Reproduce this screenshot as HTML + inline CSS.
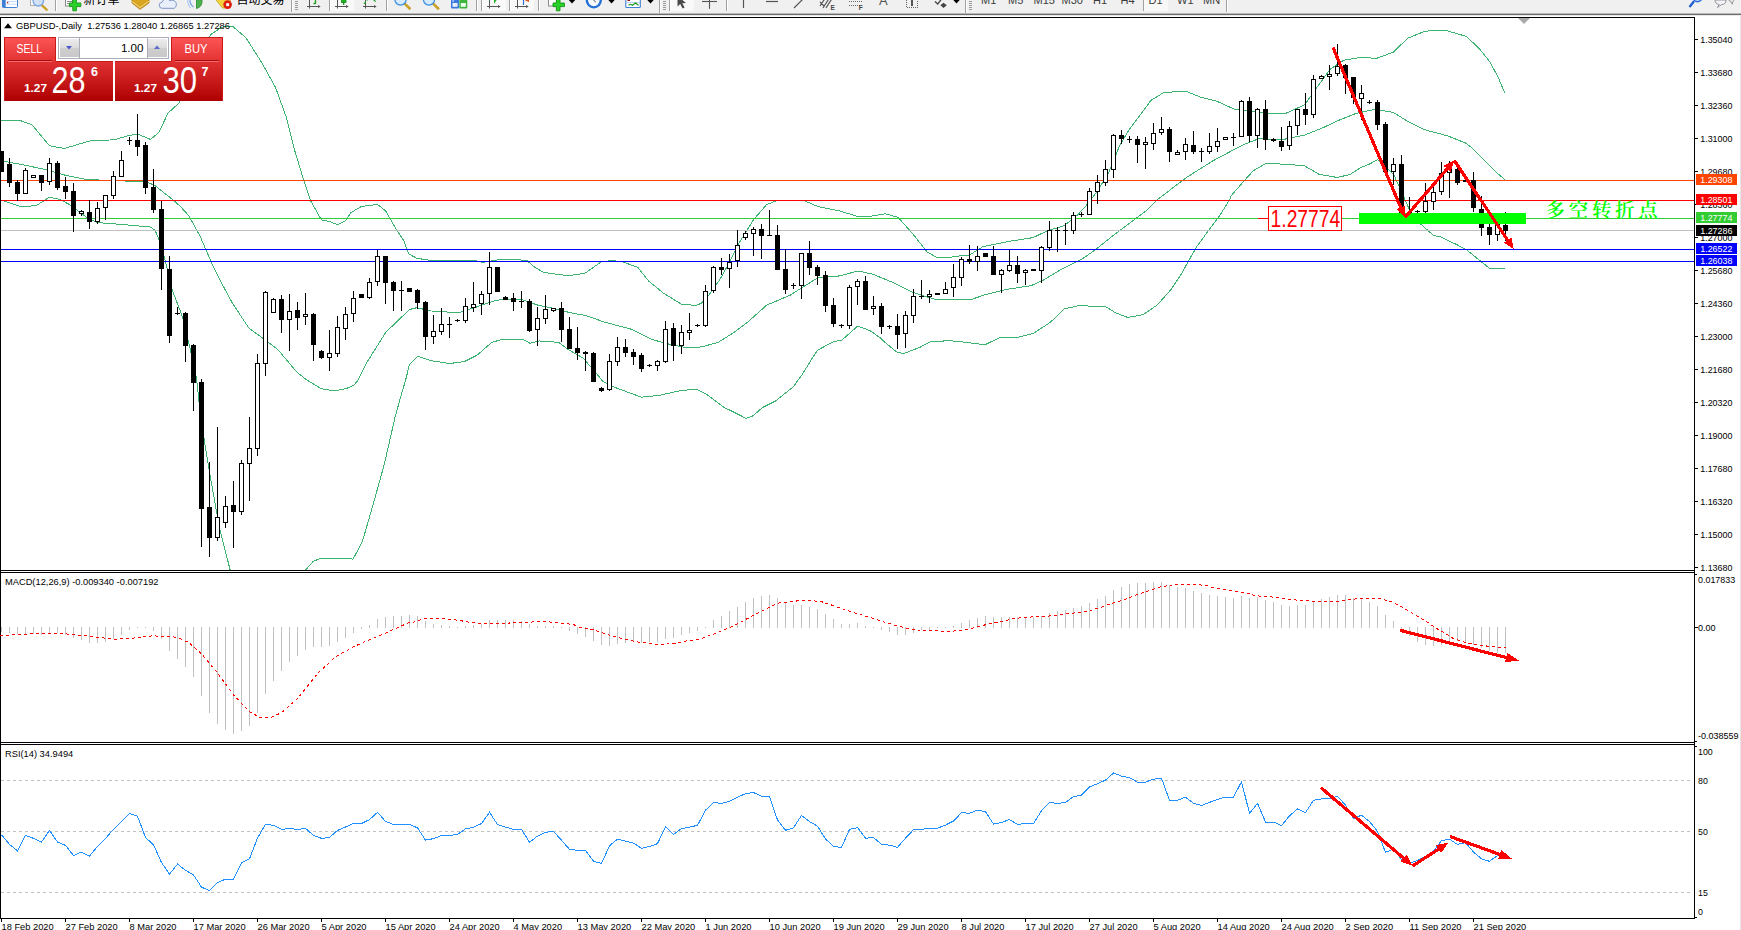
<!DOCTYPE html>
<html lang="zh"><head><meta charset="utf-8"><title>GBPUSD-,Daily</title>
<style>
html,body{margin:0;padding:0;background:#fff;}
body{width:1741px;height:930px;overflow:hidden;position:relative;font-family:"Liberation Sans","Noto Sans CJK SC",sans-serif;}
svg{position:absolute;left:0;top:0;display:block;}
svg text{font-family:"Liberation Sans","Noto Sans CJK SC",sans-serif;}
.ax{font-size:9.8px;fill:#000;}
.axw{font-size:9.8px;fill:#fff;}
.tb{font-size:12px;fill:#000;}
</style></head><body>
<svg width="1741" height="930" viewBox="0 0 1741 930">
<defs><linearGradient id="gTab" x1="0" y1="0" x2="0" y2="1"><stop offset="0" stop-color="#fd5656"/><stop offset="1" stop-color="#e23131"/></linearGradient><linearGradient id="gPan" x1="0" y1="0" x2="0" y2="1"><stop offset="0" stop-color="#e03232"/><stop offset="0.5" stop-color="#c81a1a"/><stop offset="1" stop-color="#ae0000"/></linearGradient><linearGradient id="gBtn" x1="0" y1="0" x2="0" y2="1"><stop offset="0" stop-color="#ececec"/><stop offset="0.5" stop-color="#dcdcdc"/><stop offset="0.51" stop-color="#cfcfcf"/><stop offset="1" stop-color="#c8c8c8"/></linearGradient><clipPath id="cMain"><rect x="1" y="18" width="1693" height="552"/></clipPath><clipPath id="cTb"><rect x="0" y="0" width="1741" height="13"/></clipPath></defs>
<rect x="0" y="0" width="1741" height="930" fill="#fff"/>
<g shape-rendering="crispEdges"><rect x="0" y="0" width="1741" height="13" fill="#f0f0f0"/><rect x="0" y="13" width="1741" height="1" fill="#b9b9b9"/><rect x="0" y="14" width="1741" height="1" fill="#6d6d6d"/><rect x="0" y="15" width="1741" height="1" fill="#e9e9e9"/></g>
<g clip-path="url(#cTb)"><rect x="2.5" y="-4" width="15" height="11.5" rx="1" fill="#fff" stroke="#3f7fd4" stroke-width="1"/><rect x="2.5" y="-4" width="3.2" height="11.5" fill="#3f7fd4"/><rect x="7" y="2" width="1.3" height="1.3" fill="#e00000"/><rect x="6.5" y="1" width="10" height="0.6" fill="#9cc3ee"/><rect x="6.5" y="3.8" width="10" height="0.6" fill="#9cc3ee"/><rect x="30.5" y="-4" width="9" height="9.5" fill="#fff" stroke="#b0b0b0"/><line x1="42" y1="5.5" x2="46.5" y2="9.5" stroke="#c9a227" stroke-width="2.4" stroke-linecap="square"/><circle cx="38.3" cy="0.8" r="5.2" fill="#cfdff5" fill-opacity="0.9" stroke="#7aa7e6" stroke-width="1.4"/><rect x="55" y="0" width="1" height="11" fill="#a0a0a0" shape-rendering="crispEdges"/><rect x="56" y="0" width="1" height="11" fill="#fff" shape-rendering="crispEdges"/><rect x="65.5" y="-4" width="7" height="10" fill="#fff" stroke="#888"/><rect x="67" y="1" width="5" height="1" fill="#888"/><rect x="67" y="3" width="5" height="1" fill="#888"/><path d="M72.8,-2 h3.6 v5 h4.4 v3.6 h-4.4 v4.2 h-3.6 v-4.2 h-3.4 v-3.6 h3.4 z" fill="#2bd02b" stroke="#109510" stroke-width="0.9"/><text x="83.5" y="3.6" class="tb" fill="#000">新订单</text><path d="M132,0 L141,-6 L149,0 L149,3 L140,9.3 L132,3 Z" fill="#d9a521" stroke="#a9780d" stroke-width="0.8"/><path d="M132,1.5 L140,7.5 L149,1.2" fill="none" stroke="#f5dc85" stroke-width="1"/><path d="M162.5,8.3 a3,3 0 0 1 -0.5,-6 a4.5,4.5 0 0 1 8,-1.5 a3.6,3.6 0 0 1 4.2,7.5 z" fill="#e9f0fb" stroke="#7e97c9" stroke-width="1"/><path d="M196.5,-6 a7.5,7.5 0 0 1 0,14.5 z" fill="#4cb04c" stroke="#2a8a2a" stroke-width="0.8"/><path d="M193.5,7 a8,8 0 0 1 -3,-9" fill="none" stroke="#6fa0e8" stroke-width="1.1"/><path d="M190.5,8 a11,11 0 0 1 -2,-11" fill="none" stroke="#9fc0f0" stroke-width="1"/><path d="M216,0 L222,-6 L231,-1 L227,8 L222.5,8 Z" fill="#f2d33a" stroke="#c7a21a" stroke-width="0.8"/><circle cx="227.6" cy="4.6" r="4.3" fill="#dd1f0f"/><rect x="226.2" y="3.2" width="2.9" height="2.9" fill="#fff"/><text x="236.5" y="3.6" class="tb">自动交易</text><rect x="291" y="0" width="1" height="12" fill="#a0a0a0" shape-rendering="crispEdges"/><rect x="292" y="0" width="1" height="12" fill="#fff" shape-rendering="crispEdges"/><rect x="295" y="1" width="3" height="1" fill="#9a9a9a" shape-rendering="crispEdges"/><rect x="295" y="3" width="3" height="1" fill="#9a9a9a" shape-rendering="crispEdges"/><rect x="295" y="5" width="3" height="1" fill="#9a9a9a" shape-rendering="crispEdges"/><rect x="295" y="7" width="3" height="1" fill="#9a9a9a" shape-rendering="crispEdges"/><rect x="295" y="9" width="3" height="1" fill="#9a9a9a" shape-rendering="crispEdges"/><g stroke="#555" stroke-width="1" fill="none"><line x1="309.5" y1="0" x2="309.5" y2="8.5"/><line x1="307" y1="6.5" x2="319" y2="6.5"/></g><polygon points="318,5 320.7,6.5 318,8" fill="#555"/><path d="M315.5,-2 v6 M313.5,3.5 h2" stroke="#1ea01e" stroke-width="1.3" fill="none"/><rect x="329" y="0" width="1" height="11" fill="#a0a0a0" shape-rendering="crispEdges"/><rect x="330" y="0" width="1" height="11" fill="#fff" shape-rendering="crispEdges"/><rect x="331" y="0" width="23" height="11" fill="#f9f9f9"/><g stroke="#555" stroke-width="1" fill="none"><line x1="337.5" y1="0" x2="337.5" y2="8.5"/><line x1="335" y1="6.5" x2="347" y2="6.5"/></g><polygon points="346,5 348.7,6.5 346,8" fill="#555"/><rect x="341.5" y="-3" width="4.5" height="5.5" fill="#1fb41f" stroke="#148a14" stroke-width="0.8"/><line x1="343.7" y1="2" x2="343.7" y2="5" stroke="#148a14" stroke-width="1.2"/><g stroke="#555" stroke-width="1" fill="none"><line x1="365.5" y1="0" x2="365.5" y2="8.5"/><line x1="363" y1="6.5" x2="375" y2="6.5"/></g><polygon points="374,5 376.7,6.5 374,8" fill="#555"/><path d="M364,4 L368,-1 L371,-3 L374,0 L376,2" stroke="#1ea01e" stroke-width="1.2" fill="none" stroke-dasharray="3 1.5"/><rect x="386" y="0" width="1" height="11" fill="#a0a0a0" shape-rendering="crispEdges"/><rect x="387" y="0" width="1" height="11" fill="#fff" shape-rendering="crispEdges"/><line x1="404.5" y1="3.5" x2="409.5" y2="8.3" stroke="#c9a227" stroke-width="2.6" stroke-linecap="square"/><circle cx="400.5" cy="-0.5" r="5.6" fill="#d6ebfb" stroke="#3d8fe0" stroke-width="1.3"/><line x1="433.0" y1="3.5" x2="438.0" y2="8.3" stroke="#c9a227" stroke-width="2.6" stroke-linecap="square"/><circle cx="429.0" cy="-0.5" r="5.6" fill="#d6ebfb" stroke="#3d8fe0" stroke-width="1.3"/><rect x="451" y="-3" width="8" height="11.5" rx="0.8" fill="#3b78e0"/><rect x="452.5" y="3" width="5" height="3.8" fill="#e9f0ff"/><rect x="452.5" y="0.3" width="1.3" height="1.3" fill="#fff"/><rect x="459.3" y="-3" width="8" height="11.5" rx="0.8" fill="#3db43d"/><rect x="460.8" y="3" width="5" height="3.8" fill="#eaffea"/><rect x="451" y="-3" width="16.3" height="1.6" fill="#2d5fc0"/><rect x="476" y="0" width="1" height="11" fill="#a0a0a0" shape-rendering="crispEdges"/><rect x="477" y="0" width="1" height="11" fill="#fff" shape-rendering="crispEdges"/><rect x="481" y="0" width="1" height="11" fill="#a0a0a0" shape-rendering="crispEdges"/><rect x="482" y="0" width="1" height="11" fill="#fff" shape-rendering="crispEdges"/><rect x="483" y="0" width="23" height="11" fill="#f9f9f9"/><g stroke="#555" stroke-width="1" fill="none"><line x1="489.5" y1="0" x2="489.5" y2="8.5"/><line x1="487" y1="6.5" x2="499" y2="6.5"/></g><polygon points="498,5 500.7,6.5 498,8" fill="#555"/><polygon points="494,-3 494,4 498,-2" fill="#24b324"/><rect x="509" y="0" width="1" height="11" fill="#a0a0a0" shape-rendering="crispEdges"/><rect x="510" y="0" width="1" height="11" fill="#fff" shape-rendering="crispEdges"/><rect x="511" y="0" width="23" height="11" fill="#f9f9f9"/><g stroke="#555" stroke-width="1" fill="none"><line x1="517.5" y1="0" x2="517.5" y2="8.5"/><line x1="515" y1="6.5" x2="527" y2="6.5"/></g><polygon points="526,5 528.7,6.5 526,8" fill="#555"/><line x1="523.5" y1="-2" x2="523.5" y2="5" stroke="#2a6fd0" stroke-width="1.2"/><polygon points="524.5,0 529,-3 529,2" fill="#e04a10"/><rect x="538" y="0" width="1" height="11" fill="#a0a0a0" shape-rendering="crispEdges"/><rect x="539" y="0" width="1" height="11" fill="#fff" shape-rendering="crispEdges"/><rect x="548.5" y="-4" width="8" height="10" fill="#fff" stroke="#888"/><path d="M556.4,-2 h3.6 v5 h4.4 v3.6 h-4.4 v4.2 h-3.6 v-4.2 h-3.4 v-3.6 h3.4 z" fill="#2bd02b" stroke="#109510" stroke-width="0.9"/><polygon points="568.8,0 575.2,0 572.0,3.5" fill="#000"/><circle cx="593.8" cy="0.3" r="7" fill="#f4f8ff" stroke="#1f6fd6" stroke-width="2.3"/><path d="M593.8,-3 v3.5 l2,1.5" stroke="#555" stroke-width="1" fill="none"/><polygon points="608.3,0 614.7,0 611.5,3.5" fill="#000"/><rect x="625.8" y="-4" width="14.5" height="11.5" rx="0.8" fill="#fff" stroke="#3f7fd4" stroke-width="1.1"/><rect x="627.5" y="-1" width="2.5" height="2" fill="#a01010"/><rect x="626" y="2" width="14" height="0.7" fill="#9cc3ee"/><path d="M628.5,5.3 l2,-1 l2,1 l3,-2.3 l3,2.3" stroke="#1a9a1a" stroke-width="1.1" fill="none"/><polygon points="647.3,0 653.7,0 650.5,3.5" fill="#000"/><rect x="659" y="0" width="1" height="13" fill="#a0a0a0" shape-rendering="crispEdges"/><rect x="660" y="0" width="1" height="13" fill="#fff" shape-rendering="crispEdges"/><rect x="663" y="1" width="3" height="1" fill="#9a9a9a" shape-rendering="crispEdges"/><rect x="663" y="3" width="3" height="1" fill="#9a9a9a" shape-rendering="crispEdges"/><rect x="663" y="5" width="3" height="1" fill="#9a9a9a" shape-rendering="crispEdges"/><rect x="663" y="7" width="3" height="1" fill="#9a9a9a" shape-rendering="crispEdges"/><rect x="663" y="9" width="3" height="1" fill="#9a9a9a" shape-rendering="crispEdges"/><rect x="669" y="0" width="1" height="11" fill="#a0a0a0" shape-rendering="crispEdges"/><rect x="670" y="0" width="1" height="11" fill="#fff" shape-rendering="crispEdges"/><rect x="671" y="0" width="23" height="11" fill="#f9f9f9"/><path d="M677.5,-4 L677.5,6.5 L680.2,4 L682.6,8.6 L684.6,7.6 L682.3,3.2 L686,3 Z" fill="#4a4a4a"/><g stroke="#555" stroke-width="1.1"><line x1="702" y1="1.5" x2="717" y2="1.5"/><line x1="709.5" y1="-2" x2="709.5" y2="8.8"/></g><rect x="726" y="0" width="1" height="11" fill="#a0a0a0" shape-rendering="crispEdges"/><rect x="727" y="0" width="1" height="11" fill="#fff" shape-rendering="crispEdges"/><g stroke="#555" stroke-width="1.2" fill="none"><line x1="743.5" y1="-2" x2="743.5" y2="8"/><line x1="766" y1="1.5" x2="778" y2="1.5"/><line x1="794" y1="8" x2="803" y2="-1"/><path d="M820,6 L826,-3 M823,8 L830,-3 M826,8 L833,-3 M820,2 L824,6"/></g><text x="830.5" y="9.6" font-size="6.5px" font-weight="700" fill="#444">E</text><g stroke="#666" stroke-width="1" stroke-dasharray="1 1" shape-rendering="crispEdges"><line x1="849" y1="1.5" x2="862" y2="1.5"/><line x1="849" y1="5.5" x2="860" y2="5.5"/></g><text x="858.8" y="9.6" font-size="6.5px" font-weight="700" fill="#444">F</text><text x="879" y="5.2" font-size="13px" fill="#555">A</text><g shape-rendering="crispEdges"><path d="M906.5,-2 V7.5 H917.5 V-2" stroke="#666" stroke-width="1" stroke-dasharray="1 1" fill="none"/><rect x="911" y="-2" width="2" height="7.5" fill="#555"/></g><path d="M935,1.5 L937.7,4 L942,-1.5" stroke="#444" stroke-width="1.3" fill="none"/><polygon points="943.5,2.8 946.8,5.2 943.5,8 940.4,5.2" fill="#444"/><polygon points="953.3,0 959.7,0 956.5,3.5" fill="#000"/><rect x="965" y="0" width="1" height="13" fill="#a0a0a0" shape-rendering="crispEdges"/><rect x="966" y="0" width="1" height="13" fill="#fff" shape-rendering="crispEdges"/><rect x="969" y="1" width="3" height="1" fill="#9a9a9a" shape-rendering="crispEdges"/><rect x="969" y="3" width="3" height="1" fill="#9a9a9a" shape-rendering="crispEdges"/><rect x="969" y="5" width="3" height="1" fill="#9a9a9a" shape-rendering="crispEdges"/><rect x="969" y="7" width="3" height="1" fill="#9a9a9a" shape-rendering="crispEdges"/><rect x="969" y="9" width="3" height="1" fill="#9a9a9a" shape-rendering="crispEdges"/><rect x="1144" y="0" width="24" height="11" fill="#f8f8f8"/><rect x="1143" y="0" width="1" height="11" fill="#a0a0a0" shape-rendering="crispEdges"/><g font-size="11px" fill="#3c3c3c"><text x="981" y="4.1">M1</text><text x="1008" y="4.1">M5</text><text x="1033.5" y="4.1">M15</text><text x="1061.5" y="4.1">M30</text><text x="1093" y="4.1">H1</text><text x="1120.5" y="4.1">H4</text><text x="1148.5" y="4.1">D1</text><text x="1177" y="4.1">W1</text><text x="1203" y="4.1">MN</text></g><rect x="1226" y="0" width="1" height="12" fill="#a0a0a0" shape-rendering="crispEdges"/><rect x="1227" y="0" width="1" height="12" fill="#fff" shape-rendering="crispEdges"/><line x1="1689.5" y1="7" x2="1694" y2="1.3" stroke="#1f5fd0" stroke-width="2.4"/><circle cx="1697.5" cy="-3" r="4.6" fill="none" stroke="#2f6fe0" stroke-width="1.6"/><path d="M1715,0 a5,4.6 0 0 0 4.2,4.5 l-1.8,3 l4,-2.8 a5,4.6 0 0 0 4.6,-4.7 z" fill="#f4f4fa" stroke="#8a8a8a" stroke-width="0.9"/><path d="M1728,-2 a4.5,4 0 0 0 3,3.6 l1.2,2.6 l0.6,-2.6 a4.5,4 0 0 0 2,-3.6 z" fill="#ececf6" stroke="#8a8a8a" stroke-width="0.9"/></g>
<!--FRAME-->
<g shape-rendering="crispEdges" fill="#000"><rect x="0" y="17" width="1" height="902"/><rect x="0" y="17" width="1695" height="1"/><rect x="1694" y="17" width="1" height="902"/><rect x="0" y="570" width="1695" height="1"/><rect x="0" y="572" width="1695" height="1"/><rect x="0" y="742" width="1695" height="1"/><rect x="0" y="744" width="1695" height="1"/><rect x="0" y="918" width="1695" height="1"/></g>
<rect x="1740" y="15" width="1" height="915" fill="#e6e6e6" shape-rendering="crispEdges"/>
<polygon points="1518,18 1530,18 1524,24" fill="#a9a9a9"/>
<g class="ax"><rect x="1695" y="39" width="3" height="1" fill="#000" shape-rendering="crispEdges"/><text x="1700.2" y="42.8" textLength="32.3" lengthAdjust="spacingAndGlyphs">1.35040</text><rect x="1695" y="72" width="3" height="1" fill="#000" shape-rendering="crispEdges"/><text x="1700.2" y="75.8" textLength="32.3" lengthAdjust="spacingAndGlyphs">1.33680</text><rect x="1695" y="105" width="3" height="1" fill="#000" shape-rendering="crispEdges"/><text x="1700.2" y="108.8" textLength="32.3" lengthAdjust="spacingAndGlyphs">1.32360</text><rect x="1695" y="138" width="3" height="1" fill="#000" shape-rendering="crispEdges"/><text x="1700.2" y="141.8" textLength="32.3" lengthAdjust="spacingAndGlyphs">1.31000</text><rect x="1695" y="171" width="3" height="1" fill="#000" shape-rendering="crispEdges"/><text x="1700.2" y="174.8" textLength="32.3" lengthAdjust="spacingAndGlyphs">1.29680</text><rect x="1695" y="204" width="3" height="1" fill="#000" shape-rendering="crispEdges"/><text x="1700.2" y="207.8" textLength="32.3" lengthAdjust="spacingAndGlyphs">1.28360</text><rect x="1695" y="237" width="3" height="1" fill="#000" shape-rendering="crispEdges"/><text x="1700.2" y="240.8" textLength="32.3" lengthAdjust="spacingAndGlyphs">1.27000</text><rect x="1695" y="270" width="3" height="1" fill="#000" shape-rendering="crispEdges"/><text x="1700.2" y="273.8" textLength="32.3" lengthAdjust="spacingAndGlyphs">1.25680</text><rect x="1695" y="303" width="3" height="1" fill="#000" shape-rendering="crispEdges"/><text x="1700.2" y="306.8" textLength="32.3" lengthAdjust="spacingAndGlyphs">1.24360</text><rect x="1695" y="336" width="3" height="1" fill="#000" shape-rendering="crispEdges"/><text x="1700.2" y="339.8" textLength="32.3" lengthAdjust="spacingAndGlyphs">1.23000</text><rect x="1695" y="369" width="3" height="1" fill="#000" shape-rendering="crispEdges"/><text x="1700.2" y="372.8" textLength="32.3" lengthAdjust="spacingAndGlyphs">1.21680</text><rect x="1695" y="402" width="3" height="1" fill="#000" shape-rendering="crispEdges"/><text x="1700.2" y="405.8" textLength="32.3" lengthAdjust="spacingAndGlyphs">1.20320</text><rect x="1695" y="435" width="3" height="1" fill="#000" shape-rendering="crispEdges"/><text x="1700.2" y="438.8" textLength="32.3" lengthAdjust="spacingAndGlyphs">1.19000</text><rect x="1695" y="468" width="3" height="1" fill="#000" shape-rendering="crispEdges"/><text x="1700.2" y="471.8" textLength="32.3" lengthAdjust="spacingAndGlyphs">1.17680</text><rect x="1695" y="501" width="3" height="1" fill="#000" shape-rendering="crispEdges"/><text x="1700.2" y="504.8" textLength="32.3" lengthAdjust="spacingAndGlyphs">1.16320</text><rect x="1695" y="534" width="3" height="1" fill="#000" shape-rendering="crispEdges"/><text x="1700.2" y="537.8" textLength="32.3" lengthAdjust="spacingAndGlyphs">1.15000</text><rect x="1695" y="567" width="3" height="1" fill="#000" shape-rendering="crispEdges"/><text x="1700.2" y="570.8" textLength="32.3" lengthAdjust="spacingAndGlyphs">1.13680</text></g>
<g clip-path="url(#cMain)" shape-rendering="crispEdges"><polyline fill="none" stroke="#3cb371" stroke-width="1" points="1.5,120.9 21.5,121.0 32.0,124.7 49.5,145.8 64.5,148.4 90.0,140.9 114.0,139.8 129.0,135.5 137.6,134.0 150.5,139.4 159.0,132.3 168.0,113.1 178.8,103.2 190.0,75.0 200.0,52.0 211.0,34.4 221.8,27.1 232.6,26.3 246.0,37.8 262.2,63.4 275.6,87.6 286.3,117.2 294.4,149.4 302.5,176.3 310.5,200.5 321.3,219.8 329.4,221.5 337.4,224.7 345.5,220.6 350.9,212.6 361.6,206.4 377.7,204.5 385.8,211.2 396.6,230.0 404.0,241.0 408.6,253.8 416.8,258.3 431.4,260.5 475.3,260.5 482.6,262.5 500.9,259.3 526.5,260.2 533.8,266.6 543.0,272.0 550.0,273.4 568.3,275.6 584.7,273.4 601.2,261.9 612.0,260.5 623.0,262.0 637.8,267.4 648.7,281.1 663.3,293.0 681.6,304.3 696.3,305.4 701.7,303.0 709.0,294.8 720.0,279.3 730.0,261.3 739.1,243.0 753.8,219.3 766.6,204.6 775.7,201.0 790.0,200.3 805.0,201.0 817.8,206.5 839.7,211.0 858.0,216.5 872.6,216.0 885.4,213.8 898.2,217.4 912.8,233.9 927.4,252.2 936.6,257.3 950.0,257.3 958.3,256.1 969.3,255.1 983.1,246.5 1008.9,241.4 1033.1,237.6 1046.8,231.0 1064.1,225.8 1077.9,214.6 1088.2,203.4 1097.2,191.2 1108.2,173.9 1119.2,146.5 1128.3,130.9 1140.0,115.3 1151.0,100.3 1163.8,92.5 1185.7,91.2 1200.3,97.0 1216.8,101.2 1235.1,109.5 1268.0,113.1 1286.3,113.1 1304.5,104.9 1315.5,89.4 1330.1,69.3 1343.8,60.2 1360.2,57.4 1376.7,58.3 1393.1,52.3 1407.8,38.2 1424.2,31.5 1437.0,30.0 1448.0,31.0 1466.3,36.4 1479.0,48.3 1490.0,62.0 1498.2,77.5 1504.6,92.5" /><polyline fill="none" stroke="#3cb371" stroke-width="1" points="2.0,161.0 21.5,164.5 43.0,169.0 64.5,175.0 86.0,179.5 124.0,181.0 142.0,181.2 148.0,182.5 155.0,185.5 163.0,192.0 171.0,198.3 180.0,206.0 189.0,216.0 200.0,236.0 211.2,262.0 223.0,285.7 232.3,303.0 248.7,327.8 263.3,338.7 278.0,349.7 296.3,371.6 306.8,380.0 321.5,388.8 335.1,390.9 346.6,388.4 353.7,385.4 358.2,380.0 367.4,361.6 385.7,332.4 409.5,309.5 416.8,307.7 431.4,311.0 458.8,312.8 477.1,306.8 495.4,300.4 508.2,299.1 522.8,300.0 537.4,305.0 550.0,307.6 568.3,312.2 586.6,315.8 604.8,322.2 632.3,329.5 652.4,339.6 668.8,344.1 687.1,347.8 701.7,346.9 718.2,342.3 732.8,333.2 748.3,321.6 766.6,305.2 790.3,295.1 803.1,286.9 817.8,277.8 839.7,275.9 858.0,271.0 872.6,274.1 894.5,283.2 912.8,292.4 934.8,299.3 950.0,299.5 971.0,299.6 984.8,294.8 1005.5,289.6 1031.3,285.6 1043.4,280.1 1060.6,269.8 1081.3,259.5 1095.1,250.0 1112.3,236.2 1129.6,223.3 1147.3,210.0 1158.3,199.0 1185.7,178.0 1213.1,160.7 1242.4,145.1 1258.8,138.7 1282.6,139.6 1304.5,135.1 1322.8,127.8 1338.3,120.5 1356.6,113.2 1374.8,109.5 1393.1,112.3 1407.8,121.4 1424.2,129.6 1448.0,136.0 1466.3,143.3 1474.3,150.0 1487.0,162.9 1498.0,173.8 1505.0,179.7" /><polyline fill="none" stroke="#3cb371" stroke-width="1" points="1.5,200.0 21.5,207.0 36.5,205.4 49.5,197.2 60.0,199.4 71.0,205.4 86.0,217.0 97.0,222.6 120.0,224.3 150.0,227.0 155.0,230.0 160.0,242.0 164.6,258.3 172.0,289.4 179.0,307.6 183.0,318.6 190.0,347.9 196.6,379.0 199.0,401.8 204.0,438.4 210.3,476.8 219.5,528.0 230.4,571.0" /><polyline fill="none" stroke="#3cb371" stroke-width="1" points="304.7,571.0 313.1,561.5 320.4,558.3 349.8,558.3 352.9,559.4 362.4,541.5 373.9,501.7 384.4,463.9 394.9,417.8 402.0,392.0 405.4,381.0 409.5,364.4 417.7,356.1 431.4,360.7 449.7,363.5 464.3,361.6 477.1,355.2 491.7,342.4 500.9,339.7 522.8,339.3 530.1,343.3 539.3,341.0 550.0,341.4 559.1,342.7 568.3,349.6 582.9,357.9 595.7,372.5 603.0,381.6 614.0,387.1 641.4,397.2 659.7,395.3 681.6,390.4 696.3,389.3 705.4,393.5 723.7,407.2 740.0,415.2 745.9,418.4 753.0,415.8 762.5,407.5 775.5,401.0 793.2,386.8 801.5,375.6 811.0,360.2 817.5,350.2 833.4,341.6 841.7,340.3 857.7,326.1 870.0,330.6 880.0,337.7 885.4,342.7 896.4,351.8 903.7,353.6 920.1,347.2 931.1,341.4 950.0,340.8 957.2,341.3 974.5,343.4 984.8,344.8 1000.3,337.3 1017.5,337.3 1033.1,333.5 1050.3,322.4 1064.1,308.9 1081.3,305.1 1091.6,306.5 1105.4,306.5 1115.8,312.9 1127.8,317.5 1143.3,314.6 1157.1,305.1 1170.9,289.6 1181.3,274.1 1189.9,258.6 1196.8,246.5 1208.8,230.2 1219.2,216.4 1229.5,200.0 1231.4,195.4 1244.2,180.8 1253.3,170.7 1266.1,163.4 1286.3,164.3 1304.5,165.8 1319.2,174.4 1337.4,177.5 1350.2,174.4 1360.0,168.0 1370.0,163.8 1377.3,159.7 1384.6,165.6 1393.8,174.7 1402.9,194.8 1409.3,209.5 1420.5,223.9 1433.5,235.4 1440.6,236.9 1455.9,244.2 1466.6,249.9 1478.4,259.4 1489.7,268.5 1505.3,268.5" /></g>
<g shape-rendering="crispEdges"><rect x="1" y="180" width="1693" height="1" fill="#ff4500"/><rect x="1" y="200" width="1693" height="1" fill="#ff0000"/><rect x="1" y="218" width="1693" height="1" fill="#32cd32"/><rect x="1" y="230" width="1693" height="1" fill="#c0c0c0"/><rect x="1" y="249" width="1693" height="1" fill="#0000ff"/><rect x="1" y="261" width="1693" height="1" fill="#0000ff"/></g>
<g shape-rendering="crispEdges" clip-path="url(#cMain)"><rect x="1" y="151" width="1" height="21" fill="#000"/><rect x="-1" y="151" width="5" height="21" fill="#000"/><rect x="9" y="158" width="1" height="29" fill="#000"/><rect x="7" y="164" width="5" height="19" fill="#000"/><rect x="17" y="180" width="1" height="21" fill="#000"/><rect x="15" y="182" width="5" height="12" fill="#000"/><rect x="25" y="168" width="1" height="26" fill="#000"/><rect x="23" y="170" width="5" height="24" fill="#000"/><rect x="24" y="171" width="3" height="22" fill="#fff"/><rect x="33" y="175" width="1" height="3" fill="#000"/><rect x="31" y="175" width="5" height="3" fill="#000"/><rect x="32" y="176" width="3" height="1" fill="#fff"/><rect x="41" y="175" width="1" height="16" fill="#000"/><rect x="39" y="175" width="5" height="8" fill="#000"/><rect x="49" y="158" width="1" height="27" fill="#000"/><rect x="47" y="163" width="5" height="19" fill="#000"/><rect x="48" y="164" width="3" height="17" fill="#fff"/><rect x="57" y="161" width="1" height="29" fill="#000"/><rect x="55" y="163" width="5" height="25" fill="#000"/><rect x="65" y="177" width="1" height="22" fill="#000"/><rect x="63" y="186" width="5" height="6" fill="#000"/><rect x="73" y="183" width="1" height="49" fill="#000"/><rect x="71" y="191" width="5" height="25" fill="#000"/><rect x="81" y="210" width="1" height="6" fill="#000"/><rect x="79" y="211" width="5" height="3" fill="#000"/><rect x="80" y="212" width="3" height="1" fill="#fff"/><rect x="89" y="200" width="1" height="29" fill="#000"/><rect x="87" y="212" width="5" height="10" fill="#000"/><rect x="97" y="202" width="1" height="22" fill="#000"/><rect x="95" y="208" width="5" height="14" fill="#000"/><rect x="96" y="209" width="3" height="12" fill="#fff"/><rect x="105" y="195" width="1" height="25" fill="#000"/><rect x="103" y="195" width="5" height="13" fill="#000"/><rect x="104" y="196" width="3" height="11" fill="#fff"/><rect x="113" y="171" width="1" height="28" fill="#000"/><rect x="111" y="176" width="5" height="20" fill="#000"/><rect x="112" y="177" width="3" height="18" fill="#fff"/><rect x="121" y="151" width="1" height="26" fill="#000"/><rect x="119" y="160" width="5" height="17" fill="#000"/><rect x="120" y="161" width="3" height="15" fill="#fff"/><rect x="129" y="137" width="1" height="8" fill="#000"/><rect x="127" y="140" width="5" height="1" fill="#000"/><rect x="137" y="114" width="1" height="42" fill="#000"/><rect x="135" y="140" width="5" height="7" fill="#000"/><rect x="145" y="142" width="1" height="52" fill="#000"/><rect x="143" y="145" width="5" height="43" fill="#000"/><rect x="153" y="169" width="1" height="44" fill="#000"/><rect x="151" y="187" width="5" height="23" fill="#000"/><rect x="161" y="201" width="1" height="89" fill="#000"/><rect x="159" y="209" width="5" height="60" fill="#000"/><rect x="169" y="256" width="1" height="87" fill="#000"/><rect x="167" y="269" width="5" height="67" fill="#000"/><rect x="177" y="307" width="1" height="8" fill="#000"/><rect x="175" y="313" width="5" height="1" fill="#000"/><rect x="185" y="312" width="1" height="50" fill="#000"/><rect x="183" y="313" width="5" height="33" fill="#000"/><rect x="193" y="344" width="1" height="67" fill="#000"/><rect x="191" y="345" width="5" height="38" fill="#000"/><rect x="201" y="379" width="1" height="168" fill="#000"/><rect x="199" y="382" width="5" height="127" fill="#000"/><rect x="209" y="462" width="1" height="95" fill="#000"/><rect x="207" y="507" width="5" height="31" fill="#000"/><rect x="217" y="427" width="1" height="114" fill="#000"/><rect x="215" y="517" width="5" height="21" fill="#000"/><rect x="216" y="518" width="3" height="19" fill="#fff"/><rect x="225" y="496" width="1" height="32" fill="#000"/><rect x="223" y="506" width="5" height="17" fill="#000"/><rect x="224" y="507" width="3" height="15" fill="#fff"/><rect x="233" y="481" width="1" height="67" fill="#000"/><rect x="231" y="505" width="5" height="7" fill="#000"/><rect x="241" y="460" width="1" height="55" fill="#000"/><rect x="239" y="463" width="5" height="49" fill="#000"/><rect x="240" y="464" width="3" height="47" fill="#fff"/><rect x="249" y="417" width="1" height="84" fill="#000"/><rect x="247" y="448" width="5" height="16" fill="#000"/><rect x="248" y="449" width="3" height="14" fill="#fff"/><rect x="257" y="354" width="1" height="102" fill="#000"/><rect x="255" y="363" width="5" height="86" fill="#000"/><rect x="256" y="364" width="3" height="84" fill="#fff"/><rect x="265" y="291" width="1" height="85" fill="#000"/><rect x="263" y="292" width="5" height="72" fill="#000"/><rect x="264" y="293" width="3" height="70" fill="#fff"/><rect x="273" y="298" width="1" height="15" fill="#000"/><rect x="271" y="299" width="5" height="14" fill="#000"/><rect x="272" y="300" width="3" height="12" fill="#fff"/><rect x="281" y="295" width="1" height="38" fill="#000"/><rect x="279" y="299" width="5" height="21" fill="#000"/><rect x="289" y="294" width="1" height="57" fill="#000"/><rect x="287" y="311" width="5" height="9" fill="#000"/><rect x="288" y="312" width="3" height="7" fill="#fff"/><rect x="297" y="302" width="1" height="28" fill="#000"/><rect x="295" y="310" width="5" height="8" fill="#000"/><rect x="305" y="293" width="1" height="32" fill="#000"/><rect x="303" y="314" width="5" height="3" fill="#000"/><rect x="304" y="315" width="3" height="1" fill="#fff"/><rect x="313" y="313" width="1" height="48" fill="#000"/><rect x="311" y="314" width="5" height="31" fill="#000"/><rect x="321" y="350" width="1" height="9" fill="#000"/><rect x="319" y="351" width="5" height="7" fill="#000"/><rect x="329" y="330" width="1" height="41" fill="#000"/><rect x="327" y="353" width="5" height="5" fill="#000"/><rect x="328" y="354" width="3" height="3" fill="#fff"/><rect x="337" y="316" width="1" height="41" fill="#000"/><rect x="335" y="327" width="5" height="27" fill="#000"/><rect x="336" y="328" width="3" height="25" fill="#fff"/><rect x="345" y="307" width="1" height="33" fill="#000"/><rect x="343" y="314" width="5" height="15" fill="#000"/><rect x="344" y="315" width="3" height="13" fill="#fff"/><rect x="353" y="291" width="1" height="31" fill="#000"/><rect x="351" y="298" width="5" height="16" fill="#000"/><rect x="352" y="299" width="3" height="14" fill="#fff"/><rect x="361" y="294" width="1" height="4" fill="#000"/><rect x="359" y="294" width="5" height="4" fill="#000"/><rect x="369" y="278" width="1" height="21" fill="#000"/><rect x="367" y="282" width="5" height="16" fill="#000"/><rect x="368" y="283" width="3" height="14" fill="#fff"/><rect x="377" y="250" width="1" height="36" fill="#000"/><rect x="375" y="256" width="5" height="26" fill="#000"/><rect x="376" y="257" width="3" height="24" fill="#fff"/><rect x="385" y="256" width="1" height="48" fill="#000"/><rect x="383" y="256" width="5" height="27" fill="#000"/><rect x="393" y="281" width="1" height="30" fill="#000"/><rect x="391" y="282" width="5" height="9" fill="#000"/><rect x="401" y="281" width="1" height="30" fill="#000"/><rect x="399" y="290" width="5" height="1" fill="#000"/><rect x="409" y="288" width="1" height="4" fill="#000"/><rect x="407" y="288" width="5" height="4" fill="#000"/><rect x="417" y="289" width="1" height="20" fill="#000"/><rect x="415" y="290" width="5" height="13" fill="#000"/><rect x="425" y="301" width="1" height="49" fill="#000"/><rect x="423" y="302" width="5" height="35" fill="#000"/><rect x="433" y="315" width="1" height="29" fill="#000"/><rect x="431" y="331" width="5" height="6" fill="#000"/><rect x="432" y="332" width="3" height="4" fill="#fff"/><rect x="441" y="308" width="1" height="27" fill="#000"/><rect x="439" y="324" width="5" height="8" fill="#000"/><rect x="440" y="325" width="3" height="6" fill="#fff"/><rect x="449" y="317" width="1" height="21" fill="#000"/><rect x="447" y="324" width="5" height="1" fill="#000"/><rect x="457" y="319" width="1" height="3" fill="#000"/><rect x="455" y="320" width="5" height="1" fill="#000"/><rect x="465" y="298" width="1" height="25" fill="#000"/><rect x="463" y="306" width="5" height="15" fill="#000"/><rect x="464" y="307" width="3" height="13" fill="#fff"/><rect x="473" y="282" width="1" height="30" fill="#000"/><rect x="471" y="304" width="5" height="4" fill="#000"/><rect x="472" y="305" width="3" height="2" fill="#fff"/><rect x="481" y="291" width="1" height="24" fill="#000"/><rect x="479" y="294" width="5" height="10" fill="#000"/><rect x="480" y="295" width="3" height="8" fill="#fff"/><rect x="489" y="252" width="1" height="53" fill="#000"/><rect x="487" y="267" width="5" height="27" fill="#000"/><rect x="488" y="268" width="3" height="25" fill="#fff"/><rect x="497" y="267" width="1" height="25" fill="#000"/><rect x="495" y="267" width="5" height="25" fill="#000"/><rect x="505" y="296" width="1" height="4" fill="#000"/><rect x="503" y="297" width="5" height="3" fill="#000"/><rect x="513" y="293" width="1" height="18" fill="#000"/><rect x="511" y="298" width="5" height="4" fill="#000"/><rect x="521" y="291" width="1" height="17" fill="#000"/><rect x="519" y="301" width="5" height="1" fill="#000"/><rect x="529" y="299" width="1" height="33" fill="#000"/><rect x="527" y="301" width="5" height="30" fill="#000"/><rect x="537" y="307" width="1" height="39" fill="#000"/><rect x="535" y="318" width="5" height="12" fill="#000"/><rect x="536" y="319" width="3" height="10" fill="#fff"/><rect x="545" y="295" width="1" height="29" fill="#000"/><rect x="543" y="309" width="5" height="10" fill="#000"/><rect x="544" y="310" width="3" height="8" fill="#fff"/><rect x="553" y="308" width="1" height="4" fill="#000"/><rect x="551" y="308" width="5" height="3" fill="#000"/><rect x="552" y="309" width="3" height="1" fill="#fff"/><rect x="561" y="302" width="1" height="40" fill="#000"/><rect x="559" y="308" width="5" height="22" fill="#000"/><rect x="569" y="317" width="1" height="32" fill="#000"/><rect x="567" y="329" width="5" height="20" fill="#000"/><rect x="577" y="327" width="1" height="33" fill="#000"/><rect x="575" y="348" width="5" height="5" fill="#000"/><rect x="585" y="351" width="1" height="20" fill="#000"/><rect x="583" y="352" width="5" height="2" fill="#000"/><rect x="593" y="352" width="1" height="30" fill="#000"/><rect x="591" y="353" width="5" height="29" fill="#000"/><rect x="601" y="387" width="1" height="5" fill="#000"/><rect x="599" y="388" width="5" height="3" fill="#000"/><rect x="609" y="354" width="1" height="37" fill="#000"/><rect x="607" y="361" width="5" height="29" fill="#000"/><rect x="608" y="362" width="3" height="27" fill="#fff"/><rect x="617" y="337" width="1" height="29" fill="#000"/><rect x="615" y="347" width="5" height="15" fill="#000"/><rect x="616" y="348" width="3" height="13" fill="#fff"/><rect x="625" y="339" width="1" height="18" fill="#000"/><rect x="623" y="347" width="5" height="6" fill="#000"/><rect x="633" y="349" width="1" height="16" fill="#000"/><rect x="631" y="352" width="5" height="5" fill="#000"/><rect x="641" y="353" width="1" height="19" fill="#000"/><rect x="639" y="355" width="5" height="14" fill="#000"/><rect x="649" y="364" width="1" height="3" fill="#000"/><rect x="647" y="365" width="5" height="1" fill="#000"/><rect x="657" y="360" width="1" height="11" fill="#000"/><rect x="655" y="361" width="5" height="5" fill="#000"/><rect x="656" y="362" width="3" height="3" fill="#fff"/><rect x="665" y="321" width="1" height="42" fill="#000"/><rect x="663" y="329" width="5" height="33" fill="#000"/><rect x="664" y="330" width="3" height="31" fill="#fff"/><rect x="673" y="323" width="1" height="38" fill="#000"/><rect x="671" y="328" width="5" height="18" fill="#000"/><rect x="681" y="325" width="1" height="29" fill="#000"/><rect x="679" y="332" width="5" height="14" fill="#000"/><rect x="680" y="333" width="3" height="12" fill="#fff"/><rect x="689" y="313" width="1" height="27" fill="#000"/><rect x="687" y="330" width="5" height="3" fill="#000"/><rect x="688" y="331" width="3" height="1" fill="#fff"/><rect x="697" y="324" width="1" height="3" fill="#000"/><rect x="695" y="325" width="5" height="1" fill="#000"/><rect x="705" y="285" width="1" height="42" fill="#000"/><rect x="703" y="291" width="5" height="35" fill="#000"/><rect x="704" y="292" width="3" height="33" fill="#fff"/><rect x="713" y="266" width="1" height="27" fill="#000"/><rect x="711" y="267" width="5" height="24" fill="#000"/><rect x="712" y="268" width="3" height="22" fill="#fff"/><rect x="721" y="258" width="1" height="17" fill="#000"/><rect x="719" y="267" width="5" height="3" fill="#000"/><rect x="729" y="254" width="1" height="34" fill="#000"/><rect x="727" y="262" width="5" height="7" fill="#000"/><rect x="728" y="263" width="3" height="5" fill="#fff"/><rect x="737" y="230" width="1" height="37" fill="#000"/><rect x="735" y="245" width="5" height="16" fill="#000"/><rect x="736" y="246" width="3" height="14" fill="#fff"/><rect x="745" y="231" width="1" height="9" fill="#000"/><rect x="743" y="233" width="5" height="5" fill="#000"/><rect x="744" y="234" width="3" height="3" fill="#fff"/><rect x="753" y="227" width="1" height="29" fill="#000"/><rect x="751" y="229" width="5" height="5" fill="#000"/><rect x="752" y="230" width="3" height="3" fill="#fff"/><rect x="761" y="224" width="1" height="35" fill="#000"/><rect x="759" y="229" width="5" height="7" fill="#000"/><rect x="769" y="210" width="1" height="26" fill="#000"/><rect x="767" y="235" width="5" height="1" fill="#000"/><rect x="777" y="225" width="1" height="45" fill="#000"/><rect x="775" y="235" width="5" height="35" fill="#000"/><rect x="785" y="249" width="1" height="45" fill="#000"/><rect x="783" y="269" width="5" height="21" fill="#000"/><rect x="793" y="283" width="1" height="6" fill="#000"/><rect x="791" y="285" width="5" height="1" fill="#000"/><rect x="801" y="253" width="1" height="46" fill="#000"/><rect x="799" y="253" width="5" height="33" fill="#000"/><rect x="800" y="254" width="3" height="31" fill="#fff"/><rect x="809" y="241" width="1" height="34" fill="#000"/><rect x="807" y="253" width="5" height="15" fill="#000"/><rect x="817" y="265" width="1" height="20" fill="#000"/><rect x="815" y="267" width="5" height="9" fill="#000"/><rect x="825" y="271" width="1" height="41" fill="#000"/><rect x="823" y="275" width="5" height="31" fill="#000"/><rect x="833" y="298" width="1" height="29" fill="#000"/><rect x="831" y="305" width="5" height="19" fill="#000"/><rect x="841" y="324" width="1" height="4" fill="#000"/><rect x="839" y="325" width="5" height="1" fill="#000"/><rect x="849" y="285" width="1" height="44" fill="#000"/><rect x="847" y="287" width="5" height="39" fill="#000"/><rect x="848" y="288" width="3" height="37" fill="#fff"/><rect x="857" y="279" width="1" height="26" fill="#000"/><rect x="855" y="281" width="5" height="6" fill="#000"/><rect x="856" y="282" width="3" height="4" fill="#fff"/><rect x="865" y="276" width="1" height="34" fill="#000"/><rect x="863" y="281" width="5" height="29" fill="#000"/><rect x="873" y="296" width="1" height="19" fill="#000"/><rect x="871" y="306" width="5" height="3" fill="#000"/><rect x="872" y="307" width="3" height="1" fill="#fff"/><rect x="881" y="303" width="1" height="31" fill="#000"/><rect x="879" y="306" width="5" height="21" fill="#000"/><rect x="889" y="325" width="1" height="4" fill="#000"/><rect x="887" y="326" width="5" height="1" fill="#000"/><rect x="897" y="314" width="1" height="35" fill="#000"/><rect x="895" y="326" width="5" height="9" fill="#000"/><rect x="905" y="311" width="1" height="37" fill="#000"/><rect x="903" y="315" width="5" height="19" fill="#000"/><rect x="904" y="316" width="3" height="17" fill="#fff"/><rect x="913" y="289" width="1" height="34" fill="#000"/><rect x="911" y="296" width="5" height="20" fill="#000"/><rect x="912" y="297" width="3" height="18" fill="#fff"/><rect x="921" y="280" width="1" height="19" fill="#000"/><rect x="919" y="296" width="5" height="1" fill="#000"/><rect x="929" y="290" width="1" height="13" fill="#000"/><rect x="927" y="294" width="5" height="3" fill="#000"/><rect x="928" y="295" width="3" height="1" fill="#fff"/><rect x="937" y="293" width="1" height="2" fill="#000"/><rect x="935" y="293" width="5" height="2" fill="#000"/><rect x="945" y="282" width="1" height="12" fill="#000"/><rect x="943" y="289" width="5" height="5" fill="#000"/><rect x="944" y="290" width="3" height="3" fill="#fff"/><rect x="953" y="264" width="1" height="33" fill="#000"/><rect x="951" y="277" width="5" height="11" fill="#000"/><rect x="952" y="278" width="3" height="9" fill="#fff"/><rect x="961" y="257" width="1" height="29" fill="#000"/><rect x="959" y="259" width="5" height="19" fill="#000"/><rect x="960" y="260" width="3" height="17" fill="#fff"/><rect x="969" y="245" width="1" height="19" fill="#000"/><rect x="967" y="259" width="5" height="3" fill="#000"/><rect x="977" y="246" width="1" height="25" fill="#000"/><rect x="975" y="256" width="5" height="6" fill="#000"/><rect x="976" y="257" width="3" height="4" fill="#fff"/><rect x="985" y="253" width="1" height="4" fill="#000"/><rect x="983" y="253" width="5" height="4" fill="#000"/><rect x="993" y="246" width="1" height="29" fill="#000"/><rect x="991" y="256" width="5" height="19" fill="#000"/><rect x="1001" y="269" width="1" height="24" fill="#000"/><rect x="999" y="270" width="5" height="5" fill="#000"/><rect x="1000" y="271" width="3" height="3" fill="#fff"/><rect x="1009" y="250" width="1" height="22" fill="#000"/><rect x="1007" y="265" width="5" height="6" fill="#000"/><rect x="1008" y="266" width="3" height="4" fill="#fff"/><rect x="1017" y="256" width="1" height="27" fill="#000"/><rect x="1015" y="265" width="5" height="9" fill="#000"/><rect x="1025" y="269" width="1" height="16" fill="#000"/><rect x="1023" y="270" width="5" height="3" fill="#000"/><rect x="1024" y="271" width="3" height="1" fill="#fff"/><rect x="1033" y="269" width="1" height="2" fill="#000"/><rect x="1031" y="269" width="5" height="2" fill="#000"/><rect x="1041" y="246" width="1" height="37" fill="#000"/><rect x="1039" y="247" width="5" height="24" fill="#000"/><rect x="1040" y="248" width="3" height="22" fill="#fff"/><rect x="1049" y="221" width="1" height="30" fill="#000"/><rect x="1047" y="230" width="5" height="18" fill="#000"/><rect x="1048" y="231" width="3" height="16" fill="#fff"/><rect x="1057" y="227" width="1" height="25" fill="#000"/><rect x="1055" y="230" width="5" height="1" fill="#000"/><rect x="1065" y="223" width="1" height="22" fill="#000"/><rect x="1063" y="230" width="5" height="1" fill="#000"/><rect x="1073" y="212" width="1" height="22" fill="#000"/><rect x="1071" y="215" width="5" height="16" fill="#000"/><rect x="1072" y="216" width="3" height="14" fill="#fff"/><rect x="1081" y="212" width="1" height="5" fill="#000"/><rect x="1079" y="214" width="5" height="1" fill="#000"/><rect x="1089" y="188" width="1" height="27" fill="#000"/><rect x="1087" y="191" width="5" height="24" fill="#000"/><rect x="1088" y="192" width="3" height="22" fill="#fff"/><rect x="1097" y="175" width="1" height="29" fill="#000"/><rect x="1095" y="182" width="5" height="10" fill="#000"/><rect x="1096" y="183" width="3" height="8" fill="#fff"/><rect x="1105" y="160" width="1" height="26" fill="#000"/><rect x="1103" y="169" width="5" height="14" fill="#000"/><rect x="1104" y="170" width="3" height="12" fill="#fff"/><rect x="1113" y="134" width="1" height="44" fill="#000"/><rect x="1111" y="135" width="5" height="35" fill="#000"/><rect x="1112" y="136" width="3" height="33" fill="#fff"/><rect x="1121" y="130" width="1" height="14" fill="#000"/><rect x="1119" y="135" width="5" height="4" fill="#000"/><rect x="1129" y="136" width="1" height="7" fill="#000"/><rect x="1127" y="139" width="5" height="1" fill="#000"/><rect x="1137" y="136" width="1" height="27" fill="#000"/><rect x="1135" y="139" width="5" height="6" fill="#000"/><rect x="1145" y="137" width="1" height="32" fill="#000"/><rect x="1143" y="142" width="5" height="3" fill="#000"/><rect x="1144" y="143" width="3" height="1" fill="#fff"/><rect x="1153" y="123" width="1" height="27" fill="#000"/><rect x="1151" y="133" width="5" height="11" fill="#000"/><rect x="1152" y="134" width="3" height="9" fill="#fff"/><rect x="1161" y="117" width="1" height="18" fill="#000"/><rect x="1159" y="129" width="5" height="4" fill="#000"/><rect x="1160" y="130" width="3" height="2" fill="#fff"/><rect x="1169" y="127" width="1" height="35" fill="#000"/><rect x="1167" y="129" width="5" height="23" fill="#000"/><rect x="1177" y="150" width="1" height="5" fill="#000"/><rect x="1175" y="152" width="5" height="3" fill="#000"/><rect x="1176" y="153" width="3" height="1" fill="#fff"/><rect x="1185" y="138" width="1" height="22" fill="#000"/><rect x="1183" y="144" width="5" height="8" fill="#000"/><rect x="1184" y="145" width="3" height="6" fill="#fff"/><rect x="1193" y="131" width="1" height="23" fill="#000"/><rect x="1191" y="145" width="5" height="7" fill="#000"/><rect x="1201" y="148" width="1" height="14" fill="#000"/><rect x="1199" y="151" width="5" height="1" fill="#000"/><rect x="1209" y="133" width="1" height="21" fill="#000"/><rect x="1207" y="146" width="5" height="6" fill="#000"/><rect x="1208" y="147" width="3" height="4" fill="#fff"/><rect x="1217" y="128" width="1" height="24" fill="#000"/><rect x="1215" y="141" width="5" height="6" fill="#000"/><rect x="1216" y="142" width="3" height="4" fill="#fff"/><rect x="1225" y="137" width="1" height="3" fill="#000"/><rect x="1223" y="137" width="5" height="3" fill="#000"/><rect x="1224" y="138" width="3" height="1" fill="#fff"/><rect x="1233" y="133" width="1" height="13" fill="#000"/><rect x="1231" y="137" width="5" height="1" fill="#000"/><rect x="1241" y="100" width="1" height="37" fill="#000"/><rect x="1239" y="101" width="5" height="36" fill="#000"/><rect x="1240" y="102" width="3" height="34" fill="#fff"/><rect x="1249" y="97" width="1" height="45" fill="#000"/><rect x="1247" y="101" width="5" height="35" fill="#000"/><rect x="1257" y="108" width="1" height="40" fill="#000"/><rect x="1255" y="109" width="5" height="27" fill="#000"/><rect x="1256" y="110" width="3" height="25" fill="#fff"/><rect x="1265" y="100" width="1" height="50" fill="#000"/><rect x="1263" y="109" width="5" height="31" fill="#000"/><rect x="1273" y="138" width="1" height="4" fill="#000"/><rect x="1271" y="139" width="5" height="2" fill="#000"/><rect x="1281" y="127" width="1" height="24" fill="#000"/><rect x="1279" y="141" width="5" height="6" fill="#000"/><rect x="1289" y="121" width="1" height="29" fill="#000"/><rect x="1287" y="126" width="5" height="20" fill="#000"/><rect x="1288" y="127" width="3" height="18" fill="#fff"/><rect x="1297" y="109" width="1" height="26" fill="#000"/><rect x="1295" y="109" width="5" height="17" fill="#000"/><rect x="1296" y="110" width="3" height="15" fill="#fff"/><rect x="1305" y="93" width="1" height="32" fill="#000"/><rect x="1303" y="109" width="5" height="6" fill="#000"/><rect x="1313" y="75" width="1" height="43" fill="#000"/><rect x="1311" y="79" width="5" height="36" fill="#000"/><rect x="1312" y="80" width="3" height="34" fill="#fff"/><rect x="1321" y="75" width="1" height="4" fill="#000"/><rect x="1319" y="76" width="5" height="3" fill="#000"/><rect x="1320" y="77" width="3" height="1" fill="#fff"/><rect x="1329" y="65" width="1" height="25" fill="#000"/><rect x="1327" y="74" width="5" height="3" fill="#000"/><rect x="1328" y="75" width="3" height="1" fill="#fff"/><rect x="1337" y="44" width="1" height="32" fill="#000"/><rect x="1335" y="66" width="5" height="8" fill="#000"/><rect x="1336" y="67" width="3" height="6" fill="#fff"/><rect x="1345" y="64" width="1" height="30" fill="#000"/><rect x="1343" y="65" width="5" height="13" fill="#000"/><rect x="1353" y="77" width="1" height="27" fill="#000"/><rect x="1351" y="77" width="5" height="21" fill="#000"/><rect x="1361" y="85" width="1" height="35" fill="#000"/><rect x="1359" y="93" width="5" height="6" fill="#000"/><rect x="1360" y="94" width="3" height="4" fill="#fff"/><rect x="1369" y="100" width="1" height="4" fill="#000"/><rect x="1367" y="102" width="5" height="1" fill="#000"/><rect x="1377" y="100" width="1" height="30" fill="#000"/><rect x="1375" y="102" width="5" height="23" fill="#000"/><rect x="1385" y="122" width="1" height="54" fill="#000"/><rect x="1383" y="124" width="5" height="48" fill="#000"/><rect x="1393" y="158" width="1" height="27" fill="#000"/><rect x="1391" y="164" width="5" height="8" fill="#000"/><rect x="1392" y="165" width="3" height="6" fill="#fff"/><rect x="1401" y="155" width="1" height="62" fill="#000"/><rect x="1399" y="164" width="5" height="49" fill="#000"/><rect x="1409" y="197" width="1" height="17" fill="#000"/><rect x="1407" y="212" width="5" height="1" fill="#000"/><rect x="1417" y="210" width="1" height="3" fill="#000"/><rect x="1415" y="211" width="5" height="1" fill="#000"/><rect x="1425" y="183" width="1" height="30" fill="#000"/><rect x="1423" y="201" width="5" height="11" fill="#000"/><rect x="1424" y="202" width="3" height="9" fill="#fff"/><rect x="1433" y="182" width="1" height="28" fill="#000"/><rect x="1431" y="192" width="5" height="10" fill="#000"/><rect x="1432" y="193" width="3" height="8" fill="#fff"/><rect x="1441" y="162" width="1" height="33" fill="#000"/><rect x="1439" y="173" width="5" height="19" fill="#000"/><rect x="1440" y="174" width="3" height="17" fill="#fff"/><rect x="1449" y="161" width="1" height="37" fill="#000"/><rect x="1447" y="164" width="5" height="9" fill="#000"/><rect x="1448" y="165" width="3" height="7" fill="#fff"/><rect x="1457" y="165" width="1" height="20" fill="#000"/><rect x="1455" y="169" width="5" height="14" fill="#000"/><rect x="1465" y="180" width="1" height="2" fill="#000"/><rect x="1463" y="180" width="5" height="2" fill="#000"/><rect x="1473" y="172" width="1" height="40" fill="#000"/><rect x="1471" y="180" width="5" height="28" fill="#000"/><rect x="1481" y="196" width="1" height="40" fill="#000"/><rect x="1479" y="209" width="5" height="19" fill="#000"/><rect x="1489" y="224" width="1" height="21" fill="#000"/><rect x="1487" y="227" width="5" height="8" fill="#000"/><rect x="1497" y="222" width="1" height="19" fill="#000"/><rect x="1495" y="224" width="5" height="11" fill="#000"/><rect x="1496" y="225" width="3" height="9" fill="#fff"/><rect x="1505" y="212" width="1" height="29" fill="#000"/><rect x="1503" y="225" width="5" height="6" fill="#000"/></g>
<g shape-rendering="crispEdges"><rect x="1696" y="174" width="41" height="11" fill="#ff4500"/><rect x="1696" y="194" width="41" height="11" fill="#ff0000"/><rect x="1696" y="212" width="41" height="11" fill="#32cd32"/><rect x="1696" y="225" width="41" height="11" fill="#000000"/><rect x="1696" y="243" width="41" height="11" fill="#0000ff"/><rect x="1696" y="255" width="41" height="11" fill="#0000ff"/></g><g class="axw"><text x="1700.2" y="183.2" textLength="32.3" lengthAdjust="spacingAndGlyphs">1.29308</text><text x="1700.2" y="203.2" textLength="32.3" lengthAdjust="spacingAndGlyphs">1.28501</text><text x="1700.2" y="221.2" textLength="32.3" lengthAdjust="spacingAndGlyphs">1.27774</text><text x="1700.2" y="233.6" textLength="32.3" lengthAdjust="spacingAndGlyphs">1.27286</text><text x="1700.2" y="252.2" textLength="32.3" lengthAdjust="spacingAndGlyphs">1.26522</text><text x="1700.2" y="264.2" textLength="32.3" lengthAdjust="spacingAndGlyphs">1.26038</text></g>
<rect x="1359" y="213" width="167" height="11" fill="#00ff00" shape-rendering="crispEdges"/>
<text x="1545.5" y="216.6" style="font-family:'Noto Serif CJK SC','Noto Sans CJK SC',serif;font-weight:600;font-size:19.5px;letter-spacing:3.7px" fill="#00ff00">多空转折点</text>
<g shape-rendering="crispEdges"><rect x="1258" y="218" width="10" height="1" fill="#ff0000"/><rect x="1268.5" y="206.5" width="73" height="24" fill="#fff" stroke="#ff0000" stroke-width="1"/></g><text x="1270.6" y="227.2" font-size="23.6px" fill="#ff0000" textLength="69.6" lengthAdjust="spacingAndGlyphs">1.27774</text>
<g shape-rendering="crispEdges"><line x1="1333.0" y1="47.5" x2="1402.4" y2="211.4" stroke="#ff0000" stroke-width="3.2"/><polygon points="1405.0,217.5 1396.6,209.1 1404.9,205.6" fill="#ff0000"/><line x1="1405.0" y1="217.5" x2="1450.0" y2="165.5" stroke="#ff0000" stroke-width="3.2"/><polygon points="1454.3,160.5 1450.5,171.8 1443.7,165.9" fill="#ff0000"/><line x1="1454.3" y1="160.5" x2="1510.1" y2="243.8" stroke="#ff0000" stroke-width="3.2"/><polygon points="1513.8,249.3 1503.9,242.7 1511.4,237.7" fill="#ff0000"/></g>
<polygon points="4,28.3 12,28.3 8,23.3" fill="#000"/><text x="16" y="28.8" font-size="9.35px" fill="#000" style="white-space:pre">GBPUSD-,Daily  1.27536 1.28040 1.26865 1.27286</text>
<g shape-rendering="crispEdges" fill="#c0c0c0"><rect x="1" y="627" width="1" height="5"/><rect x="9" y="627" width="1" height="6"/><rect x="17" y="627" width="1" height="7"/><rect x="25" y="627" width="1" height="7"/><rect x="33" y="627" width="1" height="7"/><rect x="41" y="627" width="1" height="8"/><rect x="49" y="627" width="1" height="6"/><rect x="57" y="627" width="1" height="6"/><rect x="65" y="627" width="1" height="8"/><rect x="73" y="627" width="1" height="11"/><rect x="81" y="627" width="1" height="13"/><rect x="89" y="627" width="1" height="16"/><rect x="97" y="627" width="1" height="16"/><rect x="105" y="627" width="1" height="15"/><rect x="113" y="627" width="1" height="12"/><rect x="121" y="627" width="1" height="8"/><rect x="129" y="627" width="1" height="3"/><rect x="137" y="627" width="1" height="1"/><rect x="145" y="627" width="1" height="1"/><rect x="153" y="627" width="1" height="4"/><rect x="161" y="627" width="1" height="12"/><rect x="169" y="627" width="1" height="24"/><rect x="177" y="627" width="1" height="32"/><rect x="185" y="627" width="1" height="40"/><rect x="193" y="627" width="1" height="50"/><rect x="201" y="627" width="1" height="69"/><rect x="209" y="627" width="1" height="86"/><rect x="217" y="627" width="1" height="97"/><rect x="225" y="627" width="1" height="103"/><rect x="233" y="627" width="1" height="107"/><rect x="241" y="627" width="1" height="104"/><rect x="249" y="627" width="1" height="99"/><rect x="257" y="627" width="1" height="86"/><rect x="265" y="627" width="1" height="67"/><rect x="273" y="627" width="1" height="54"/><rect x="281" y="627" width="1" height="44"/><rect x="289" y="627" width="1" height="35"/><rect x="297" y="627" width="1" height="29"/><rect x="305" y="627" width="1" height="23"/><rect x="313" y="627" width="1" height="20"/><rect x="321" y="627" width="1" height="20"/><rect x="329" y="627" width="1" height="19"/><rect x="337" y="627" width="1" height="15"/><rect x="345" y="627" width="1" height="11"/><rect x="353" y="627" width="1" height="6"/><rect x="361" y="627" width="1" height="2"/><rect x="369" y="625" width="1" height="3"/><rect x="377" y="619" width="1" height="9"/><rect x="385" y="617" width="1" height="11"/><rect x="393" y="616" width="1" height="12"/><rect x="401" y="616" width="1" height="12"/><rect x="409" y="615" width="1" height="13"/><rect x="417" y="616" width="1" height="12"/><rect x="425" y="621" width="1" height="7"/><rect x="433" y="624" width="1" height="4"/><rect x="441" y="625" width="1" height="3"/><rect x="449" y="626" width="1" height="2"/><rect x="457" y="627" width="1" height="1"/><rect x="465" y="626" width="1" height="2"/><rect x="473" y="625" width="1" height="3"/><rect x="481" y="624" width="1" height="4"/><rect x="489" y="620" width="1" height="8"/><rect x="497" y="620" width="1" height="8"/><rect x="505" y="620" width="1" height="8"/><rect x="513" y="620" width="1" height="8"/><rect x="521" y="621" width="1" height="7"/><rect x="529" y="624" width="1" height="4"/><rect x="537" y="626" width="1" height="2"/><rect x="545" y="626" width="1" height="2"/><rect x="553" y="626" width="1" height="2"/><rect x="561" y="627" width="1" height="1"/><rect x="569" y="627" width="1" height="4"/><rect x="577" y="627" width="1" height="7"/><rect x="585" y="627" width="1" height="10"/><rect x="593" y="627" width="1" height="14"/><rect x="601" y="627" width="1" height="18"/><rect x="609" y="627" width="1" height="19"/><rect x="617" y="627" width="1" height="17"/><rect x="625" y="627" width="1" height="16"/><rect x="633" y="627" width="1" height="15"/><rect x="641" y="627" width="1" height="16"/><rect x="649" y="627" width="1" height="15"/><rect x="657" y="627" width="1" height="15"/><rect x="665" y="627" width="1" height="12"/><rect x="673" y="627" width="1" height="11"/><rect x="681" y="627" width="1" height="8"/><rect x="689" y="627" width="1" height="6"/><rect x="697" y="627" width="1" height="4"/><rect x="705" y="627" width="1" height="1"/><rect x="713" y="620" width="1" height="8"/><rect x="721" y="616" width="1" height="12"/><rect x="729" y="611" width="1" height="17"/><rect x="737" y="607" width="1" height="21"/><rect x="745" y="602" width="1" height="26"/><rect x="753" y="598" width="1" height="30"/><rect x="761" y="596" width="1" height="32"/><rect x="769" y="595" width="1" height="33"/><rect x="777" y="598" width="1" height="30"/><rect x="785" y="603" width="1" height="25"/><rect x="793" y="605" width="1" height="23"/><rect x="801" y="605" width="1" height="23"/><rect x="809" y="607" width="1" height="21"/><rect x="817" y="609" width="1" height="19"/><rect x="825" y="614" width="1" height="14"/><rect x="833" y="619" width="1" height="9"/><rect x="841" y="624" width="1" height="4"/><rect x="849" y="624" width="1" height="4"/><rect x="857" y="623" width="1" height="5"/><rect x="865" y="626" width="1" height="2"/><rect x="873" y="627" width="1" height="1"/><rect x="881" y="627" width="1" height="3"/><rect x="889" y="627" width="1" height="5"/><rect x="897" y="627" width="1" height="8"/><rect x="905" y="627" width="1" height="8"/><rect x="913" y="627" width="1" height="6"/><rect x="921" y="627" width="1" height="3"/><rect x="929" y="627" width="1" height="3"/><rect x="937" y="627" width="1" height="1"/><rect x="945" y="627" width="1" height="1"/><rect x="953" y="626" width="1" height="2"/><rect x="961" y="623" width="1" height="5"/><rect x="969" y="620" width="1" height="8"/><rect x="977" y="618" width="1" height="10"/><rect x="985" y="616" width="1" height="12"/><rect x="993" y="617" width="1" height="11"/><rect x="1001" y="617" width="1" height="11"/><rect x="1009" y="617" width="1" height="11"/><rect x="1017" y="617" width="1" height="11"/><rect x="1025" y="617" width="1" height="11"/><rect x="1033" y="617" width="1" height="11"/><rect x="1041" y="616" width="1" height="12"/><rect x="1049" y="613" width="1" height="15"/><rect x="1057" y="611" width="1" height="17"/><rect x="1065" y="610" width="1" height="18"/><rect x="1073" y="608" width="1" height="20"/><rect x="1081" y="606" width="1" height="22"/><rect x="1089" y="603" width="1" height="25"/><rect x="1097" y="599" width="1" height="29"/><rect x="1105" y="596" width="1" height="32"/><rect x="1113" y="590" width="1" height="38"/><rect x="1121" y="587" width="1" height="41"/><rect x="1129" y="584" width="1" height="44"/><rect x="1137" y="583" width="1" height="45"/><rect x="1145" y="583" width="1" height="45"/><rect x="1153" y="582" width="1" height="46"/><rect x="1161" y="582" width="1" height="46"/><rect x="1169" y="585" width="1" height="43"/><rect x="1177" y="587" width="1" height="41"/><rect x="1185" y="588" width="1" height="40"/><rect x="1193" y="591" width="1" height="37"/><rect x="1201" y="593" width="1" height="35"/><rect x="1209" y="595" width="1" height="33"/><rect x="1217" y="596" width="1" height="32"/><rect x="1225" y="597" width="1" height="31"/><rect x="1233" y="598" width="1" height="30"/><rect x="1241" y="596" width="1" height="32"/><rect x="1249" y="598" width="1" height="30"/><rect x="1257" y="597" width="1" height="31"/><rect x="1265" y="600" width="1" height="28"/><rect x="1273" y="602" width="1" height="26"/><rect x="1281" y="605" width="1" height="23"/><rect x="1289" y="606" width="1" height="22"/><rect x="1297" y="605" width="1" height="23"/><rect x="1305" y="605" width="1" height="23"/><rect x="1313" y="602" width="1" height="26"/><rect x="1321" y="599" width="1" height="29"/><rect x="1329" y="597" width="1" height="31"/><rect x="1337" y="595" width="1" height="33"/><rect x="1345" y="595" width="1" height="33"/><rect x="1353" y="598" width="1" height="30"/><rect x="1361" y="599" width="1" height="29"/><rect x="1369" y="602" width="1" height="26"/><rect x="1377" y="606" width="1" height="22"/><rect x="1385" y="615" width="1" height="13"/><rect x="1393" y="621" width="1" height="7"/><rect x="1401" y="627" width="1" height="2"/><rect x="1409" y="627" width="1" height="9"/><rect x="1417" y="627" width="1" height="15"/><rect x="1425" y="627" width="1" height="18"/><rect x="1433" y="627" width="1" height="19"/><rect x="1441" y="627" width="1" height="18"/><rect x="1449" y="627" width="1" height="15"/><rect x="1457" y="627" width="1" height="14"/><rect x="1465" y="627" width="1" height="16"/><rect x="1473" y="627" width="1" height="18"/><rect x="1481" y="627" width="1" height="21"/><rect x="1489" y="627" width="1" height="24"/><rect x="1497" y="627" width="1" height="26"/><rect x="1505" y="627" width="1" height="26"/></g><polyline fill="none" stroke="#ff0000" stroke-width="1" points="0.0,635.6 30.2,633.8 58.3,633.2 80.4,635.2 100.5,637.6 116.6,639.3 136.7,637.8 152.8,635.8 176.9,637.2 189.0,642.7 201.0,653.3 217.1,672.4 233.2,694.5 249.3,711.6 259.4,717.1 269.4,718.1 281.5,712.6 297.5,698.6 317.7,673.4 333.7,658.4 340.0,654.2 352.4,647.4 364.8,641.6 381.4,635.0 395.8,628.4 408.2,623.0 416.5,621.5 422.7,618.8 443.4,618.6 459.9,620.5 468.2,622.1 480.6,623.6 505.4,623.6 513.7,622.4 546.8,621.7 557.1,622.6 573.7,624.6 579.9,627.5 588.1,628.3 596.4,630.8 608.8,635.0 617.1,637.2 629.5,640.3 639.8,642.4 650.2,643.2 659.5,644.7 675.0,643.2 687.4,640.8 700.0,639.5 702.4,638.1 716.9,632.9 731.4,626.7 743.8,620.5 756.2,613.9 768.6,607.7 778.9,602.9 793.4,601.5 801.7,600.2 820.3,601.3 832.7,605.4 845.1,609.7 857.5,613.7 872.0,618.0 884.4,622.1 896.8,625.7 909.2,628.8 923.7,630.8 952.6,631.2 967.1,629.4 979.5,626.3 989.8,623.6 1002.2,621.5 1014.7,618.4 1031.2,617.0 1040.0,616.8 1056.5,615.3 1066.9,613.9 1087.6,611.2 1100.0,607.7 1110.3,603.9 1122.7,600.2 1135.1,595.3 1147.5,591.1 1159.9,587.0 1172.3,584.9 1193.0,584.5 1205.4,585.3 1215.8,588.4 1230.2,590.5 1246.8,593.2 1255.0,595.7 1275.7,597.3 1288.1,599.4 1313.0,601.3 1337.8,601.3 1350.2,599.4 1362.6,598.4 1379.5,598.7 1390.8,601.5 1404.1,608.2 1415.5,615.2 1426.9,622.0 1434.4,627.1 1445.8,633.8 1453.4,638.5 1464.8,642.3 1476.1,644.7 1491.3,646.6 1505.5,648.0" stroke-dasharray="3 3" shape-rendering="crispEdges"/><g shape-rendering="crispEdges"><line x1="1400.3" y1="630.3" x2="1511.2" y2="658.8" stroke="#ff0000" stroke-width="3.2"/><polygon points="1518.8,660.7 1505.0,662.1 1507.4,652.9" fill="#ff0000"/></g><text x="5" y="585" font-size="9.3px" fill="#000">MACD(12,26,9) -0.009340 -0.007192</text><g class="ax"><text x="1698" y="582.8" textLength="37.2" lengthAdjust="spacingAndGlyphs">0.017833</text><text x="1698" y="630.7" textLength="17.6" lengthAdjust="spacingAndGlyphs">0.00</text><text x="1698" y="738.9" textLength="40.5" lengthAdjust="spacingAndGlyphs">-0.038559</text><rect x="1695" y="574" width="2" height="1" fill="#000" shape-rendering="crispEdges"/><rect x="1695" y="741" width="2" height="1" fill="#000" shape-rendering="crispEdges"/><rect x="1695" y="627" width="3" height="1" fill="#000" shape-rendering="crispEdges"/></g>
<g shape-rendering="crispEdges"><line x1="1" y1="780.5" x2="1692" y2="780.5" stroke="#c0c0c0" stroke-width="1" stroke-dasharray="3 3"/><line x1="1" y1="831.5" x2="1692" y2="831.5" stroke="#c0c0c0" stroke-width="1" stroke-dasharray="3 3"/><line x1="1" y1="892.5" x2="1692" y2="892.5" stroke="#c0c0c0" stroke-width="1" stroke-dasharray="3 3"/></g><polyline fill="none" stroke="#1e90ff" stroke-width="1" points="1.5,834.8 9.5,844.4 17.5,850.9 25.5,835.4 33.5,838.4 41.5,842.0 49.5,830.4 57.5,842.0 65.5,845.4 73.5,855.5 81.5,852.1 89.5,856.1 97.5,846.5 105.5,838.4 113.5,829.4 121.5,821.3 129.5,813.3 137.5,816.3 145.5,837.4 153.5,844.8 161.5,862.5 169.5,874.2 177.5,864.1 185.5,870.2 193.5,875.0 201.5,887.1 209.5,890.7 217.5,882.6 225.5,879.2 233.5,879.2 241.5,862.9 249.5,858.9 257.5,838.0 265.5,824.3 273.5,825.3 281.5,829.4 289.5,828.4 297.5,829.4 305.5,828.4 313.5,835.4 321.5,838.4 329.5,837.4 337.5,830.4 345.5,827.0 353.5,823.5 361.5,823.5 369.5,819.6 377.5,812.3 385.5,821.4 393.5,824.5 401.5,824.5 409.5,824.5 417.5,827.8 425.5,840.2 433.5,838.6 441.5,835.5 449.5,835.5 457.5,834.4 465.5,828.9 473.5,827.2 481.5,823.5 489.5,812.3 497.5,824.5 505.5,827.2 513.5,829.3 521.5,829.3 529.5,842.3 537.5,836.1 545.5,832.4 553.5,831.3 561.5,840.2 569.5,849.3 577.5,850.4 585.5,850.4 593.5,861.3 601.5,863.4 609.5,845.8 617.5,839.2 625.5,841.1 633.5,843.1 641.5,848.3 649.5,846.4 657.5,843.7 665.5,826.6 673.5,834.4 681.5,828.7 689.5,827.2 697.5,825.3 705.5,810.2 713.5,802.4 721.5,803.4 729.5,801.4 737.5,797.2 745.5,793.7 753.5,792.5 761.5,796.2 769.5,796.6 777.5,820.0 785.5,830.3 793.5,827.8 801.5,815.4 809.5,821.6 817.5,826.2 825.5,839.0 833.5,846.2 841.5,847.5 849.5,829.3 857.5,827.6 865.5,838.2 873.5,837.5 881.5,844.2 889.5,845.2 897.5,847.3 905.5,838.2 913.5,829.7 921.5,829.3 929.5,828.2 937.5,828.2 945.5,825.1 953.5,821.0 961.5,812.7 969.5,813.3 977.5,810.2 985.5,811.7 993.5,824.1 1001.5,822.4 1009.5,819.6 1017.5,824.5 1025.5,823.5 1033.5,823.5 1041.5,810.7 1049.5,802.4 1057.5,803.4 1065.5,802.4 1073.5,796.6 1081.5,795.2 1089.5,786.9 1097.5,783.8 1105.5,780.1 1113.5,773.0 1121.5,776.1 1129.5,777.6 1137.5,782.1 1145.5,782.1 1153.5,779.2 1161.5,778.2 1169.5,800.3 1177.5,800.3 1185.5,797.2 1193.5,803.4 1201.5,805.5 1209.5,802.4 1217.5,799.3 1225.5,797.2 1233.5,797.2 1241.5,781.7 1249.5,813.3 1257.5,803.4 1265.5,822.0 1273.5,822.0 1281.5,825.8 1289.5,815.8 1297.5,809.0 1305.5,812.7 1313.5,800.3 1321.5,798.9 1329.5,798.9 1337.5,796.2 1345.5,805.1 1353.5,818.5 1361.5,815.2 1369.5,821.6 1377.5,831.3 1385.5,852.4 1393.5,848.9 1401.5,859.5 1409.5,863.4 1417.5,860.3 1425.5,856.2 1433.5,851.0 1441.5,840.6 1449.5,839.2 1457.5,844.4 1465.5,842.7 1473.5,852.0 1481.5,858.8 1489.5,861.3 1497.5,855.5 1505.5,857.5" shape-rendering="crispEdges"/><g shape-rendering="crispEdges"><line x1="1320.7" y1="787.5" x2="1407.2" y2="861.2" stroke="#ff0000" stroke-width="3.2"/><polygon points="1412.7,865.9 1400.5,861.7 1406.6,854.5" fill="#ff0000"/><line x1="1412.7" y1="865.9" x2="1442.5" y2="846.6" stroke="#ff0000" stroke-width="3.2"/><polygon points="1448.5,842.7 1441.0,853.2 1435.8,845.2" fill="#ff0000"/><line x1="1449.9" y1="836.5" x2="1504.7" y2="856.2" stroke="#ff0000" stroke-width="3.2"/><polygon points="1512.0,858.8 1498.2,858.9 1501.4,849.9" fill="#ff0000"/></g><text x="5" y="757" font-size="9.3px" fill="#000">RSI(14) 34.9494</text><g class="ax"><text x="1698" y="754.8" textLength="14.8" lengthAdjust="spacingAndGlyphs">100</text><text x="1698" y="783.6" textLength="9.8" lengthAdjust="spacingAndGlyphs">80</text><text x="1698" y="834.6" textLength="9.8" lengthAdjust="spacingAndGlyphs">50</text><text x="1698" y="895.8" textLength="9.8" lengthAdjust="spacingAndGlyphs">15</text><text x="1698" y="914.8" textLength="4.9" lengthAdjust="spacingAndGlyphs">0</text><rect x="1695" y="746" width="2" height="1" fill="#000" shape-rendering="crispEdges"/><rect x="1695" y="917" width="2" height="1" fill="#000" shape-rendering="crispEdges"/></g>
<g class="ax"><rect x="1" y="919" width="1" height="3" fill="#000" shape-rendering="crispEdges"/><text x="1.5" y="929.8" font-size="9.3px">18 Feb 2020</text><rect x="65" y="919" width="1" height="3" fill="#000" shape-rendering="crispEdges"/><text x="65.5" y="929.8" font-size="9.3px">27 Feb 2020</text><rect x="129" y="919" width="1" height="3" fill="#000" shape-rendering="crispEdges"/><text x="129.5" y="929.8" font-size="9.3px">8 Mar 2020</text><rect x="193" y="919" width="1" height="3" fill="#000" shape-rendering="crispEdges"/><text x="193.5" y="929.8" font-size="9.3px">17 Mar 2020</text><rect x="257" y="919" width="1" height="3" fill="#000" shape-rendering="crispEdges"/><text x="257.5" y="929.8" font-size="9.3px">26 Mar 2020</text><rect x="321" y="919" width="1" height="3" fill="#000" shape-rendering="crispEdges"/><text x="321.5" y="929.8" font-size="9.3px">5 Apr 2020</text><rect x="385" y="919" width="1" height="3" fill="#000" shape-rendering="crispEdges"/><text x="385.5" y="929.8" font-size="9.3px">15 Apr 2020</text><rect x="449" y="919" width="1" height="3" fill="#000" shape-rendering="crispEdges"/><text x="449.5" y="929.8" font-size="9.3px">24 Apr 2020</text><rect x="513" y="919" width="1" height="3" fill="#000" shape-rendering="crispEdges"/><text x="513.5" y="929.8" font-size="9.3px">4 May 2020</text><rect x="577" y="919" width="1" height="3" fill="#000" shape-rendering="crispEdges"/><text x="577.5" y="929.8" font-size="9.3px">13 May 2020</text><rect x="641" y="919" width="1" height="3" fill="#000" shape-rendering="crispEdges"/><text x="641.5" y="929.8" font-size="9.3px">22 May 2020</text><rect x="705" y="919" width="1" height="3" fill="#000" shape-rendering="crispEdges"/><text x="705.5" y="929.8" font-size="9.3px">1 Jun 2020</text><rect x="769" y="919" width="1" height="3" fill="#000" shape-rendering="crispEdges"/><text x="769.5" y="929.8" font-size="9.3px">10 Jun 2020</text><rect x="833" y="919" width="1" height="3" fill="#000" shape-rendering="crispEdges"/><text x="833.5" y="929.8" font-size="9.3px">19 Jun 2020</text><rect x="897" y="919" width="1" height="3" fill="#000" shape-rendering="crispEdges"/><text x="897.5" y="929.8" font-size="9.3px">29 Jun 2020</text><rect x="961" y="919" width="1" height="3" fill="#000" shape-rendering="crispEdges"/><text x="961.5" y="929.8" font-size="9.3px">8 Jul 2020</text><rect x="1025" y="919" width="1" height="3" fill="#000" shape-rendering="crispEdges"/><text x="1025.5" y="929.8" font-size="9.3px">17 Jul 2020</text><rect x="1089" y="919" width="1" height="3" fill="#000" shape-rendering="crispEdges"/><text x="1089.5" y="929.8" font-size="9.3px">27 Jul 2020</text><rect x="1153" y="919" width="1" height="3" fill="#000" shape-rendering="crispEdges"/><text x="1153.5" y="929.8" font-size="9.3px">5 Aug 2020</text><rect x="1217" y="919" width="1" height="3" fill="#000" shape-rendering="crispEdges"/><text x="1217.5" y="929.8" font-size="9.3px">14 Aug 2020</text><rect x="1281" y="919" width="1" height="3" fill="#000" shape-rendering="crispEdges"/><text x="1281.5" y="929.8" font-size="9.3px">24 Aug 2020</text><rect x="1345" y="919" width="1" height="3" fill="#000" shape-rendering="crispEdges"/><text x="1345.5" y="929.8" font-size="9.3px">2 Sep 2020</text><rect x="1409" y="919" width="1" height="3" fill="#000" shape-rendering="crispEdges"/><text x="1409.5" y="929.8" font-size="9.3px">11 Sep 2020</text><rect x="1473" y="919" width="1" height="3" fill="#000" shape-rendering="crispEdges"/><text x="1473.5" y="929.8" font-size="9.3px">21 Sep 2020</text></g>
<g><rect x="4" y="37" width="52" height="25" fill="url(#gTab)"/><rect x="171" y="37" width="52" height="25" fill="url(#gTab)"/><rect x="4" y="61" width="109" height="40" fill="url(#gPan)"/><rect x="115" y="61" width="108" height="40" fill="url(#gPan)"/><g shape-rendering="crispEdges"><rect x="4" y="37" width="52" height="1" fill="#c81818"/><rect x="4" y="37" width="1" height="64" fill="#c81818"/><rect x="55" y="37" width="1" height="24" fill="#c81818"/><rect x="171" y="37" width="52" height="1" fill="#c81818"/><rect x="222" y="37" width="1" height="64" fill="#c81818"/><rect x="171" y="37" width="1" height="24" fill="#c81818"/><rect x="56" y="61" width="57" height="1" fill="#c81818"/><rect x="115" y="61" width="56" height="1" fill="#c81818"/><rect x="8" y="60" width="44" height="1" fill="#a80c0c"/><rect x="8" y="61" width="44" height="1" fill="#f46a6a"/><rect x="175" y="60" width="44" height="1" fill="#a80c0c"/><rect x="175" y="61" width="44" height="1" fill="#f46a6a"/><rect x="58.5" y="37.5" width="110" height="21" fill="#fff" stroke="#a9adb9"/><rect x="60" y="39" width="19" height="18" fill="url(#gBtn)"/><rect x="79" y="38" width="1" height="20" fill="#a9adb9"/><rect x="148" y="39" width="19" height="18" fill="url(#gBtn)"/><rect x="147" y="38" width="1" height="20" fill="#a9adb9"/></g><polygon points="66,46 72,46 69,49.5" fill="#4b57c4"/><polygon points="154,49 160,49 157,45.5" fill="#5d69cc"/><text x="143.5" y="52" font-size="11.6px" fill="#000" text-anchor="end">1.00</text><text x="16.5" y="53" font-size="12.2px" fill="#fff" textLength="25.5" lengthAdjust="spacingAndGlyphs">SELL</text><text x="184.5" y="53" font-size="12.2px" fill="#fff" textLength="23" lengthAdjust="spacingAndGlyphs">BUY</text><text x="24" y="92" font-size="11.6px" font-weight="700" fill="#fff" textLength="23" lengthAdjust="spacingAndGlyphs">1.27</text><text x="134" y="92" font-size="11.6px" font-weight="700" fill="#fff" textLength="23" lengthAdjust="spacingAndGlyphs">1.27</text><text x="51.5" y="92.5" font-size="36.3px" fill="#fff" textLength="34" lengthAdjust="spacingAndGlyphs">28</text><text x="162.5" y="92.5" font-size="36.3px" fill="#fff" textLength="34.5" lengthAdjust="spacingAndGlyphs">30</text><text x="91" y="76" font-size="12.5px" font-weight="700" fill="#fff">6</text><text x="201.5" y="76" font-size="12.5px" font-weight="700" fill="#fff">7</text></g>
</svg>
</body></html>
